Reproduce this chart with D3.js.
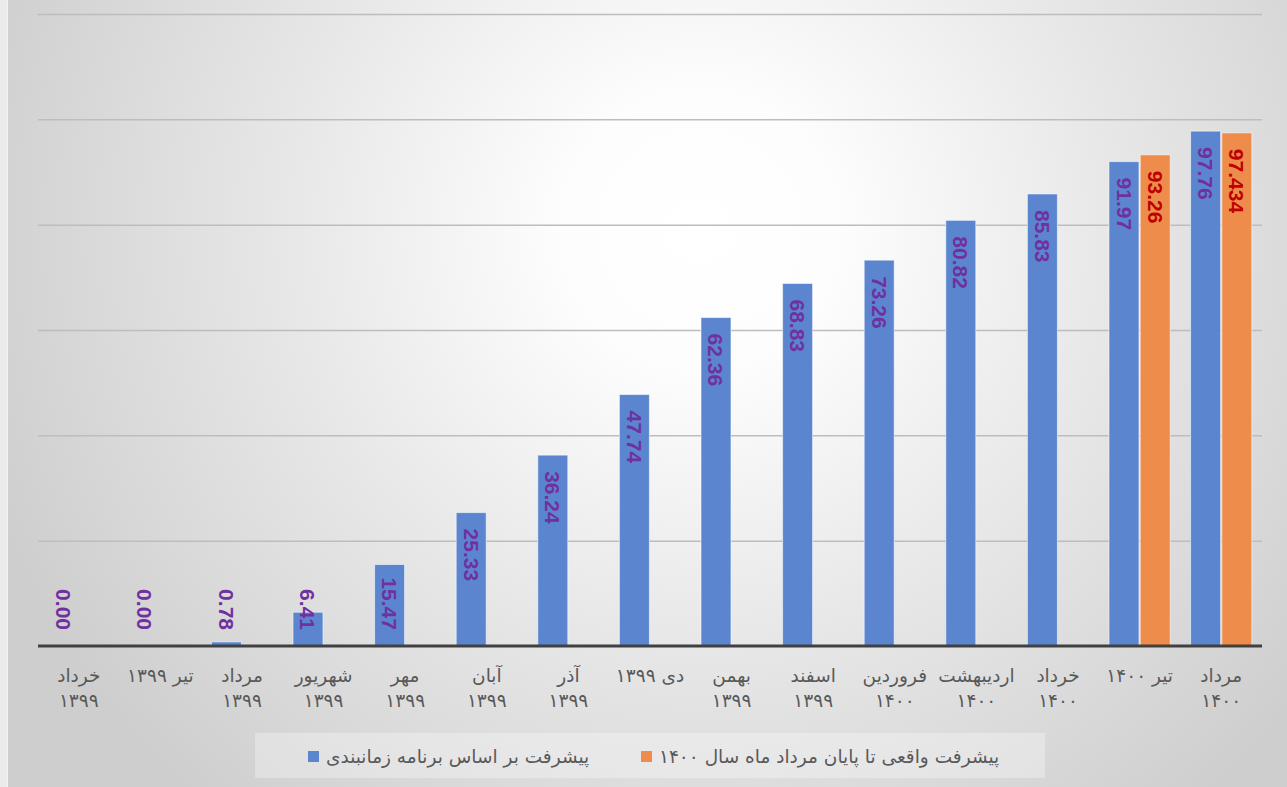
<!DOCTYPE html>
<html>
<head>
<meta charset="utf-8">
<script src="https://cdn.jsdelivr.net/npm/d3@7/dist/d3.min.js"></script>
<style>
  html, body { margin: 0; padding: 0; background: #ebebeb; }
  svg { display: block; }
</style>
</head>
<body>
<svg id="chart" width="1287" height="787"></svg>
<script>
// ---- data ----
const categories = [
  "خرداد\n۱۳۹۹", "تیر ۱۳۹۹", "مرداد\n۱۳۹۹", "شهریور\n۱۳۹۹", "مهر\n۱۳۹۹",
  "آبان\n۱۳۹۹", "آذر\n۱۳۹۹", "دی ۱۳۹۹", "بهمن\n۱۳۹۹", "اسفند\n۱۳۹۹",
  "فروردین\n۱۴۰۰", "اردیبهشت\n۱۴۰۰", "خرداد\n۱۴۰۰", "تیر ۱۴۰۰", "مرداد\n۱۴۰۰"
];
const plannedValues = [0.00, 0.00, 0.78, 6.41, 15.47, 25.33, 36.24, 47.74, 62.36, 68.83, 73.26, 80.82, 85.83, 91.97, 97.76];
const actualValues  = [null, null, null, null, null, null, null, null, null, null, null, null, null, 93.26, 97.434];
const plannedLabels = ["0.00","0.00","0.78","6.41","15.47","25.33","36.24","47.74","62.36","68.83","73.26","80.82","85.83","91.97","97.76"];
const actualLabels  = [null,null,null,null,null,null,null,null,null,null,null,null,null,"93.26","97.434"];
const seriesNames = ["پیشرفت بر  اساس برنامه زمانبندی", "پیشرفت واقعی تا پایان مرداد ماه سال ۱۴۰۰"];
const yTicks = [0, 20, 40, 60, 80, 100, 120];

// ---- layout ----
const svg = d3.select("#chart");
const W = 1287, H = 787;
const plot = { left: 38, right: 1262, top: 14, bottom: 646 };
const colors = ["#5b86cf", "#ee8d4b"];
const labelColors = ["#7030a0", "#c00000"];

// background
const defs = svg.append("defs");
const rg = defs.append("radialGradient").attr("id", "bg")
  .attr("gradientUnits", "userSpaceOnUse")
  .attr("cx", 700).attr("cy", 230).attr("r", 760);
rg.append("stop").attr("offset", 0).attr("stop-color", "#ffffff");
rg.append("stop").attr("offset", 0.18).attr("stop-color", "#fdfdfd");
rg.append("stop").attr("offset", 0.55).attr("stop-color", "#e7e7e7");
rg.append("stop").attr("offset", 1).attr("stop-color", "#cecece");
svg.append("rect").attr("x", 7).attr("y", 0).attr("width", W - 7).attr("height", H).attr("fill", "url(#bg)");
svg.append("line").attr("x1", 7.5).attr("x2", 7.5).attr("y1", 0).attr("y2", H).attr("stroke", "#f4f4f4").attr("stroke-width", 1);

// scales
const x0 = d3.scaleBand().domain(d3.range(categories.length))
  .range([plot.left, plot.right]).paddingInner(0.25).paddingOuter(0.125);
const x1 = d3.scaleBand().domain([0, 1]).range([0, x0.bandwidth()]).paddingInner(0.04);
const y = d3.scaleLinear().domain([0, 120]).range([plot.bottom, plot.top]);

// gridlines
const grid = svg.append("g").attr("transform", `translate(${plot.left},0)`)
  .call(d3.axisLeft(y).tickValues(yTicks.filter(d => d > 0)).tickSize(-(plot.right - plot.left)).tickFormat(""));
grid.select(".domain").remove();
grid.selectAll(".tick line").attr("stroke", "#bdbdbd").attr("stroke-width", 1.5);

// bars
const series = [plannedValues, actualValues];
const seriesLabels = [plannedLabels, actualLabels];
series.forEach((vals, s) => {
  svg.append("g").selectAll("rect")
    .data(vals.map((v, i) => ({ v, i })).filter(d => d.v !== null))
    .join("rect")
    .attr("x", d => x0(d.i) + x1(s))
    .attr("y", d => y(d.v))
    .attr("width", x1.bandwidth())
    .attr("height", d => y(0) - y(d.v))
    .attr("fill", colors[s])
    .attr("stroke", "rgba(255,255,255,0.55)")
    .attr("stroke-width", 1);
});

// x axis
const xAxis = svg.append("g").attr("transform", `translate(0,${plot.bottom})`)
  .call(d3.axisBottom(x0).tickSize(0).tickFormat(""));
xAxis.select(".domain").attr("stroke", "#404040").attr("stroke-width", 3)
  .attr("d", `M${plot.left},0H${plot.right}`);
xAxis.selectAll(".tick").each(function(d) {
  const lines = categories[d].split("\n");
  const t = d3.select(this).append("text")
    .attr("fill", "#595959")
    .attr("font-family", "'DejaVu Sans', sans-serif")
    .attr("font-size", 18.5)
    .attr("text-anchor", "middle")
    .attr("direction", "rtl");
  lines.forEach((ln, k) => {
    t.append("tspan").attr("x", 0).attr("y", 36 + k * 25).text(ln);
  });
});

// value labels
series.forEach((vals, s) => {
  vals.forEach((v, i) => {
    if (v === null) return;
    const cx = x0(i) + x1(s) + x1.bandwidth() / 2;
    const t = svg.append("text")
      .attr("font-family", "'Liberation Sans', Arial, sans-serif")
      .attr("font-weight", "bold")
      .attr("font-size", 21)
      .attr("fill", labelColors[s])
      .attr("dominant-baseline", "central")
      .text(seriesLabels[s][i]);
    const len = t.node().getComputedTextLength();
    const ys = Math.min(y(v) + 16, y(0) - 16 - len);
    t.attr("x", cx).attr("y", ys).attr("transform", `rotate(90,${cx},${ys})`);
  });
});

// legend
const lg = svg.append("g");
lg.append("rect").attr("x", 255).attr("y", 733).attr("width", 790).attr("height", 45)
  .attr("fill", "#ffffff").attr("fill-opacity", 0.3);
const legendX = [308, 641];
[0, 1].forEach(s => {
  lg.append("rect").attr("x", legendX[s]).attr("y", 751).attr("width", 11).attr("height", 11).attr("fill", colors[s]);
  lg.append("text").attr("x", legendX[s] + 18).attr("y", 756)
    .attr("dominant-baseline", "central")
    .attr("font-family", "'DejaVu Sans', sans-serif")
    .attr("font-size", 18.5)
    .attr("fill", "#595959")
    .text(seriesNames[s]);
});
</script>
</body>
</html>
